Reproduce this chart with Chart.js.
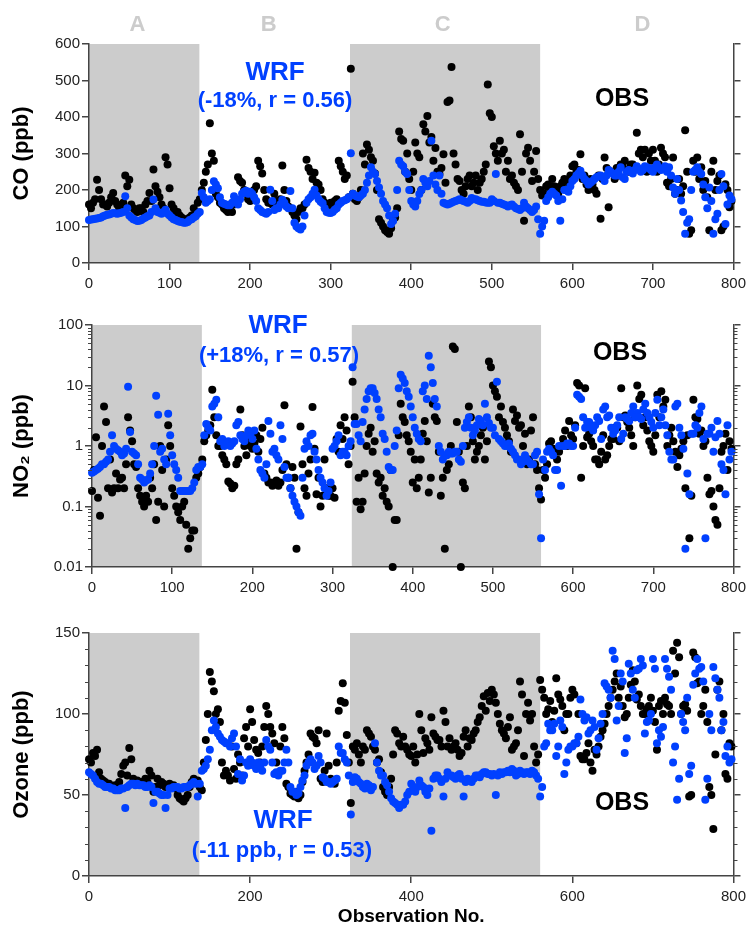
<!DOCTYPE html>
<html>
<head>
<meta charset="utf-8">
<script src="https://cdn.jsdelivr.net/npm/chart.js@4.4.1/dist/chart.umd.min.js"></script>
<style>
  body { margin: 0; background: #fff; }
  canvas { position: absolute; left: 0; }
</style>
</head>
<body>
<canvas id="co" width="751" height="300" style="top:0px"></canvas>
<canvas id="no2" width="751" height="300" style="top:300px"></canvas>
<canvas id="o3" width="751" height="335" style="top:600px"></canvas>
<script>
'use strict';
const obsNo = Array.from({ length: 160 }, (_, i) => i * 5);
const obsNoMid = obsNo.map(v => v + 2.5);

// CO (ppb)
const coObs = [
  160, 165, 228, 175, 160, 165, 192, 160, 158, 240,
  228, 150, 140, 150, 160, 192, 256, 195, 160, 290,
  205, 150, 140, 125, 120, 125, 150, 165, 200, 250,
  383, 280, 180, 160, 145, 150, 160, 235, 220, 190,
  170, 200, 280, 245, 175, 165, 190, 160, 267, 170,
  150, 130, 140, 150, 283, 250, 247, 215, 175, 160,
  165, 170, 280, 250, 240, 532, 175, 180, 300, 325,
  290, 245, 120, 100, 85, 95, 125, 360, 335, 300,
  200, 330, 290, 380, 403, 345, 315, 244, 298, 441,
  537, 270, 225, 190, 230, 210, 240, 220, 250, 489,
  400, 300, 335, 310, 280, 240, 210, 353, 116, 316,
  225, 307, 200, 190, 215, 230, 200, 210, 230, 220,
  265, 250, 298, 240, 200, 216, 190, 121, 289, 153,
  250, 260, 270, 280, 250, 270, 357, 310, 310, 300,
  310, 250, 316, 290, 210, 289, 200, 190, 364, 80,
  280, 289, 262, 225, 90, 280, 225, 90, 216, 153,
];
const coObsMid = [
  150, 175, 200, 160, 155, 180, 170, 150, 165, 210,
  160, 145, 150, 140, 170, 170, 210, 180, 150, 270,
  160, 140, 130, 120, 115, 130, 140, 175, 220, 270,
  300, 190, 165, 150, 140, 140, 170, 225, 200, 175,
  180, 210, 265, 200, 165, 160, 170, 175, 200, 155,
  140, 120, 150, 160, 260, 230, 220, 200, 165, 155,
  160, 175, 265, 230, 180, 190, 170, 200, 270, 310,
  280, 200, 110, 90, 80, 120, 150, 340, 250, 230,
  250, 300, 200, 360, 330, 280, 250, 260, 220, 445,
  300, 230, 200, 210, 240, 220, 200, 230, 270, 410,
  320, 280, 300, 250, 230, 220, 200, 250, 300, 280,
  250, 230, 185, 210, 200, 210, 190, 220, 200, 240,
  270, 255, 230, 215, 230, 200, 240, 230, 260, 250,
  230, 240, 265, 255, 270, 260, 300, 290, 250, 280,
  280, 270, 300, 220, 230, 190, 230, 210, 250, 90,
  250, 230, 200, 180, 250, 200, 240, 100, 200, 170,
];
const coWrf = [
  118, 120, 122, 125, 130, 133, 137, 135, 138, 183,
  130, 120, 115, 118, 125, 130, 174, 140, 135, 146,
  130, 120, 115, 112, 110, 118, 125, 135, 192, 165,
  175, 224, 205, 165, 160, 158, 183, 160, 190, 198,
  195, 180, 150, 140, 135, 201, 145, 150, 173, 155,
  197, 110, 95, 100, 165, 180, 201, 175, 164, 140,
  137, 146, 160, 170, 175, 301, 185, 180, 190, 220,
  262, 244, 207, 170, 150, 107, 135, 280, 265, 244,
  170, 155, 189, 230, 210, 335, 215, 240, 165, 160,
  165, 170, 175, 170, 165, 178, 175, 170, 168, 165,
  175, 244, 165, 160, 155, 160, 150, 145, 165, 150,
  140, 155, 80, 116, 180, 195, 185, 116, 200, 195,
  225, 240, 253, 230, 215, 225, 235, 240, 225, 255,
  245, 240, 262, 230, 255, 245, 265, 250, 265, 260,
  250, 270, 255, 265, 262, 207, 230, 171, 80, 120,
  250, 262, 244, 180, 207, 80, 135, 244, 107, 185,
];
const coWrfMid = [
  119, 121, 123, 128, 132, 135, 136, 136, 140, 150,
  125, 118, 116, 122, 128, 140, 150, 138, 140, 135,
  125, 118, 113, 110, 112, 120, 128, 140, 180, 170,
  200, 215, 180, 162, 158, 165, 170, 175, 195, 190,
  190, 170, 145, 138, 140, 170, 150, 160, 165, 150,
  150, 100, 92, 130, 175, 190, 185, 168, 150, 138,
  140, 150, 165, 172, 180, 190, 182, 185, 200, 240,
  250, 225, 190, 160, 130, 115, 200, 270, 250, 200,
  160, 170, 200, 220, 225, 240, 200, 190, 162, 162,
  168, 172, 172, 168, 170, 175, 172, 168, 166, 165,
  170, 165, 162, 158, 158, 155, 148, 150, 155, 145,
  145, 120, 100, 170, 190, 190, 170, 175, 200, 210,
  230, 245, 240, 225, 220, 230, 238, 235, 240, 250,
  240, 250, 235, 250, 250, 255, 258, 255, 262, 255,
  262, 260, 258, 250, 240, 190, 200, 140, 110, 200,
  255, 250, 215, 150, 170, 120, 200, 210, 160, 175,
];

// NO2 (ppb)
const no2Obs = [
  0.18, 1.4, 0.07, 4.5, 0.2, 0.17, 0.35, 0.28, 0.2, 3.0,
  1.2, 0.45, 0.15, 0.1, 0.12, 0.2, 0.06, 1.0, 0.1, 2.2,
  0.2, 0.1, 0.06, 0.12, 0.02, 0.04, 0.3, 0.45, 1.2, 1.8,
  8.5, 1.5, 1.0, 0.6, 0.26, 0.2, 0.5, 4.0, 1.0, 1.3,
  0.9, 1.5, 1.3, 0.35, 0.25, 0.22, 0.27, 0.25, 4.7, 0.3,
  0.45, 0.02, 2.1, 0.2, 0.35, 4.4, 0.16, 0.1, 0.6, 0.15,
  0.2, 1.3, 2.2, 3.0, 0.5, 11.5, 0.12, 0.09, 0.35, 1.6,
  0.8, 0.35, 0.3, 0.2, 0.1, 0.01, 0.06, 5.0, 2.5, 1.2,
  0.25, 0.2, 0.6, 2.6, 0.17, 5.0, 2.6, 0.15, 0.02, 0.5,
  44, 2.5, 0.01, 0.2, 4.5, 1.2, 0.8, 1.5, 0.6, 25,
  10, 6.5, 4.5, 2.0, 1.2, 4.0, 3.2, 2.2, 1.6, 0.6,
  3.0, 0.4, 0.13, 0.3, 1.1, 0.9, 0.6, 1.0, 1.8, 2.6,
  1.3, 11, 0.3, 9, 1.6, 1.0, 0.6, 0.8, 0.6, 1.0,
  1.3, 2.0, 9, 3.2, 2.0, 1.0, 10, 7, 3.0, 1.2,
  0.8, 7, 8, 5.8, 1.5, 1.2, 0.45, 0.9, 0.2, 0.03,
  5.8, 2.8, 1.8, 1.2, 0.16, 0.1, 0.05, 0.8, 1.6, 1.2,
];
const no2ObsMid = [
  0.4, 0.14, 1.0, 2.5, 0.6, 0.2, 0.2, 0.3, 0.5, 1.8,
  0.5, 0.2, 0.12, 0.15, 0.3, 0.5, 0.12, 0.4, 0.6, 1.0,
  0.15, 0.08, 0.1, 0.05, 0.03, 0.04, 0.35, 0.6, 1.5, 2.2,
  3.0, 1.0, 0.7, 0.5, 0.24, 0.22, 0.6, 1.5, 0.7, 1.0,
  1.1, 0.8, 2.0, 0.3, 0.25, 0.25, 0.22, 0.4, 0.5, 0.2,
  0.3, 0.08, 0.5, 0.15, 0.6, 0.9, 0.3, 0.15, 0.2, 0.15,
  0.14, 0.8, 1.3, 1.8, 1.0, 3.0, 0.3, 0.12, 1.0, 2.0,
  1.2, 0.25, 0.15, 0.12, 0.4, 0.06, 1.5, 3.0, 1.5, 0.8,
  0.6, 0.3, 1.6, 1.2, 0.3, 3.0, 0.8, 0.3, 0.4, 1.0,
  40, 0.8, 0.25, 1.0, 3.0, 0.6, 1.0, 2.0, 1.2, 20,
  8, 3.0, 2.5, 1.5, 0.8, 2.6, 2.0, 1.0, 0.5, 1.8,
  0.5, 0.2, 0.4, 0.5, 1.2, 0.8, 0.8, 1.3, 1.0, 1.5,
  2.2, 10, 1.0, 1.4, 1.2, 0.6, 0.5, 1.5, 0.7, 1.3,
  2.0, 1.2, 3.0, 2.5, 1.5, 3.0, 6, 2.2, 1.8, 1.0,
  1.5, 3.0, 4.5, 1.0, 2.0, 0.8, 0.7, 1.2, 1.5, 0.15,
  3.0, 1.6, 1.0, 0.3, 0.18, 0.06, 0.2, 1.0, 0.4, 0.9,
];
const no2Wrf = [
  0.36, 0.4, 0.45, 0.5, 0.6, 1.5, 0.9, 0.8, 0.75, 9.5,
  0.8, 0.7, 0.3, 0.25, 0.28, 0.5, 6.8, 0.8, 0.6, 3.4,
  0.7, 0.4, 0.18, 0.18, 0.18, 0.2, 0.4, 0.45, 1.5, 2.0,
  4.5, 5.8, 1.2, 1.0, 1.2, 1.1, 2.2, 1.5, 1.2, 1.8,
  1.3, 0.9, 0.4, 0.3, 2.6, 0.8, 0.7, 2.2, 0.45, 0.3,
  0.15, 0.1, 0.07, 0.9, 1.0, 1.6, 0.6, 0.3, 0.2, 0.18,
  0.9, 1.2, 0.7, 0.8, 1.0, 20, 2.3, 1.2, 4.0, 8.0,
  9, 6, 3.0, 1.3, 0.45, 0.4, 1.8, 15, 11, 6.5,
  3.0, 1.6, 1.2, 10, 31, 11, 4.5, 0.8, 0.7, 0.8,
  0.75, 0.8, 0.55, 2.0, 3.0, 1.5, 2.2, 2.6, 5.0, 2.4,
  2.0, 11.5, 1.2, 1.0, 1.1, 0.8, 0.6, 0.5, 0.7, 0.55,
  0.5, 0.8, 0.03, 0.4, 0.9, 0.7, 0.4, 0.22, 1.0, 1.1,
  1.0, 7, 6, 2.0, 2.5, 1.8, 3.0, 1.3, 4.5, 3.2,
  1.6, 2.2, 1.3, 3.0, 2.6, 4.5, 3.5, 2.8, 5.0, 3.0,
  2.0, 5.8, 3.0, 2.2, 0.8, 0.6, 5.0, 1.5, 0.02, 0.16,
  1.6, 2.0, 4.5, 0.03, 1.6, 0.8, 2.6, 0.5, 0.16, 0.6,
];
const no2WrfMid = [
  0.38, 0.42, 0.5, 0.55, 0.8, 1.0, 0.85, 0.7, 0.9, 1.7,
  0.75, 0.5, 0.28, 0.27, 0.35, 1.0, 3.3, 0.9, 0.5, 1.5,
  0.5, 0.3, 0.18, 0.18, 0.18, 0.25, 0.45, 0.5, 2.3, 1.8,
  5.0, 3.0, 1.3, 1.1, 1.0, 1.2, 2.5, 1.3, 1.5, 1.6,
  1.8, 0.6, 0.35, 0.5, 1.6, 0.9, 0.6, 1.3, 0.3, 0.2,
  0.12, 0.08, 0.3, 1.2, 1.5, 0.8, 0.4, 0.25, 0.15, 0.25,
  1.0, 1.5, 0.8, 0.7, 1.2, 2.3, 1.5, 2.5, 6.0, 9.0,
  7.5, 4.0, 1.6, 0.8, 0.4, 1.0, 9, 13, 8, 4.5,
  2.0, 1.3, 8, 6, 20, 6, 1.0, 0.6, 0.7, 0.75,
  0.8, 0.6, 1.0, 2.5, 2.0, 1.8, 2.8, 2.2, 3.0, 2.0,
  1.5, 1.3, 1.1, 1.0, 0.9, 0.7, 0.6, 0.55, 0.6, 0.5,
  0.7, 0.16, 0.6, 0.8, 0.8, 0.4, 1.0, 1.0, 1.1, 1.0,
  2.0, 6.5, 3.0, 2.5, 2.0, 2.2, 2.6, 4.0, 3.0, 2.0,
  1.8, 3.0, 1.6, 2.8, 3.5, 3.0, 3.0, 4.0, 3.5, 2.5,
  3.5, 2.2, 4.0, 1.5, 0.6, 4.5, 2.0, 0.9, 0.35, 1.6,
  2.2, 3.5, 1.3, 1.6, 2.0, 1.4, 1.6, 0.4, 2.2, 0.8,
];

// Ozone (ppb)
const o3Obs = [
  72, 76, 78, 60, 58, 57, 55, 56, 63, 70,
  79, 60, 59, 58, 60, 65, 52, 60, 58, 55,
  57, 56, 50, 47, 48, 55, 60, 59, 53, 84,
  126, 114, 103, 70, 65, 59, 66, 75, 62, 92,
  103, 84, 76, 80, 105, 92, 82, 63, 92, 57,
  51, 49, 48, 58, 70, 88, 85, 90, 58, 88,
  60, 57, 102, 119, 87, 45, 78, 75, 80, 90,
  86, 78, 72, 55, 50, 60, 90, 82, 86, 78,
  74, 70, 100, 76, 82, 98, 86, 84, 102, 80,
  78, 82, 74, 86, 80, 84, 90, 98, 111, 113,
  115, 107, 94, 88, 92, 78, 82, 120, 74, 107,
  100, 70, 121, 110, 103, 95, 122, 109, 90, 100,
  115, 82, 74, 72, 82, 65, 75, 86, 94, 105,
  115, 125, 117, 98, 110, 127, 109, 105, 100, 105,
  102, 78, 108, 110, 105, 139, 144, 100, 106, 49,
  138, 119, 100, 115, 55, 29, 115, 90, 63, 82,
];
const o3ObsMid = [
  70, 74, 64, 59, 57, 55, 56, 58, 68, 62,
  72, 58, 57, 56, 58, 62, 55, 56, 57, 56,
  55, 54, 48, 46, 50, 58, 58, 55, 70, 100,
  120, 100, 95, 62, 62, 80, 60, 70, 85, 80,
  95, 78, 70, 92, 100, 88, 70, 80, 85, 55,
  50, 52, 50, 65, 75, 86, 82, 60, 65, 68,
  58, 70, 108, 107, 70, 80, 82, 70, 78, 88,
  80, 70, 64, 52, 55, 75, 88, 80, 80, 75,
  80, 75, 90, 85, 78, 88, 84, 80, 95, 85,
  80, 78, 76, 90, 85, 88, 95, 105, 102, 108,
  112, 100, 90, 85, 98, 80, 90, 112, 100, 96,
  80, 75, 115, 100, 108, 102, 112, 105, 100, 110,
  112, 100, 72, 76, 70, 78, 80, 90, 100, 110,
  120, 110, 105, 100, 118, 120, 112, 100, 103, 110,
  95, 105, 100, 106, 100, 125, 135, 105, 102, 50,
  135, 120, 105, 95, 50, 75, 120, 100, 60, 80,
];
const o3Wrf = [
  64, 62, 58, 57, 55, 55, 54, 53, 54, 42,
  56, 57, 57, 56, 55, 56, 45, 52, 50, 42,
  54, 55, 55, 54, 55, 56, 58, 49, 65, 68,
  78, 96, 88, 84, 82, 80, 88, 63, 59, 70,
  72, 68, 70, 65, 84, 78, 63, 62, 65, 78,
  55, 52, 51, 59, 68, 72, 66, 74, 61, 58,
  57, 59, 80, 76, 70, 38, 61, 58, 55, 57,
  53, 82, 65, 62, 56, 48, 45, 42, 44, 50,
  57, 52, 59, 55, 50, 28, 62, 60, 49, 64,
  62, 60, 63, 49, 60, 58, 62, 61, 64, 63,
  62, 50, 64, 64, 65, 66, 62, 65, 63, 64,
  65, 62, 49, 80, 94, 90, 74, 96, 63, 78,
  80, 82, 109, 96, 88, 96, 78, 94, 119, 115,
  139, 96, 125, 76, 131, 115, 127, 134, 88, 96,
  134, 82, 86, 134, 123, 70, 47, 100, 90, 63,
  118, 134, 129, 47, 100, 129, 115, 90, 74, 70,
];
const o3WrfMid = [
  63, 60, 57, 56, 55, 54, 53, 53, 54, 55,
  57, 56, 56, 56, 55, 55, 52, 51, 50, 50,
  54, 55, 54, 55, 55, 57, 57, 57, 66, 72,
  90, 92, 86, 83, 82, 85, 80, 72, 62, 68,
  70, 66, 68, 70, 80, 70, 64, 65, 70, 70,
  52, 50, 55, 62, 70, 70, 68, 70, 60, 58,
  58, 60, 76, 72, 62, 58, 60, 57, 54, 56,
  55, 70, 62, 58, 52, 46, 44, 44, 46, 52,
  55, 55, 56, 52, 54, 60, 62, 58, 60, 62,
  61, 62, 60, 58, 59, 60, 62, 63, 64, 63,
  63, 62, 63, 64, 64, 65, 63, 64, 64, 63,
  64, 60, 55, 82, 90, 94, 80, 92, 70, 80,
  82, 86, 100, 98, 90, 92, 85, 100, 117, 110,
  134, 105, 120, 85, 125, 110, 128, 130, 95, 100,
  128, 90, 92, 128, 115, 80, 60, 95, 110, 68,
  125, 128, 120, 60, 90, 122, 110, 95, 80, 72,
];

// ticks
const xTicks100 = [0, 100, 200, 300, 400, 500, 600, 700, 800];
const xTicks200 = [0, 200, 400, 600, 800];
const coTicks = [0, 100, 200, 300, 400, 500, 600];
const no2Ticks = [0.01, 0.1, 1, 10, 100];
const no2Minor = [0.01, 0.1, 1, 10].flatMap(d => [2, 3, 4, 5, 6, 7, 8, 9].map(m => d * m));
const o3Ticks = [0, 50, 100, 150];
const o3Minor = [10, 20, 30, 40, 60, 70, 80, 90, 110, 120, 130, 140];

// shaded periods and their letters
const shadedRanges = [[0, 137], [324, 560]];
const regionLabels = ['A', 'B', 'C', 'D'];
const regionCenters = [60, 223, 439, 687];

const BLUE = '#0040ff';
const AXIS = '#444';
Chart.defaults.font.family = '"Liberation Sans", Arial, sans-serif';

const toPoints = (vals, mids) =>
  vals.map((v, i) => ({ x: obsNo[i], y: v })).concat(mids.map((v, i) => ({ x: obsNoMid[i], y: v })));

const shadePlugin = {
  id: 'shade',
  beforeDraw(chart) {
    const { ctx, chartArea, scales } = chart;
    ctx.save();
    ctx.fillStyle = '#cccccc';
    shadedRanges.forEach(([a, b]) => {
      const x1 = scales.x.getPixelForValue(a);
      const x2 = scales.x.getPixelForValue(b);
      ctx.fillRect(x1, chartArea.top, x2 - x1, chartArea.bottom - chartArea.top);
    });
    ctx.restore();
  },
};

const minorTickPlugin = {
  id: 'minorTicks',
  afterDraw(chart, args, opts) {
    if (!opts.values) return;
    const { ctx, chartArea, scales } = chart;
    ctx.save();
    ctx.strokeStyle = AXIS;
    ctx.lineWidth = 1.2;
    ctx.beginPath();
    opts.values.forEach(v => {
      const y = Math.round(scales.y.getPixelForValue(v)) + 0.5;
      ctx.moveTo(chartArea.left - 4, y);
      ctx.lineTo(chartArea.left, y);
      ctx.moveTo(chartArea.right, y);
      ctx.lineTo(chartArea.right + 4, y);
    });
    ctx.stroke();
    ctx.restore();
  },
};

const textPlugin = {
  id: 'texts',
  afterDraw(chart, args, opts) {
    const { ctx, scales } = chart;
    ctx.save();
    ctx.textAlign = 'center';
    ctx.textBaseline = 'middle';
    (opts.items || []).forEach(t => {
      ctx.font = `bold ${t.size}px "Liberation Sans", Arial, sans-serif`;
      ctx.fillStyle = t.color;
      const x = t.obs !== undefined ? scales.x.getPixelForValue(t.obs) : t.x;
      ctx.fillText(t.text, x, t.y);
    });
    ctx.restore();
  },
};

function makePanel(canvasId, p) {
  const tickFont = { size: 15 };
  const grid = { drawOnChartArea: false, tickLength: 7, color: AXIS, lineWidth: 1.5 };
  const border = { color: AXIS, width: 1.5 };
  const setTicks = list => scale => { scale.ticks = list.map(v => ({ value: v })); };

  return new Chart(document.getElementById(canvasId), {
    type: 'scatter',
    data: {
      datasets: [
        { label: 'WRF', data: toPoints(p.wrf, p.wrfMid), backgroundColor: BLUE, pointRadius: 4, borderWidth: 0, clip: false },
        { label: 'OBS', data: toPoints(p.obs, p.obsMid), backgroundColor: '#000', pointRadius: 4, borderWidth: 0, clip: false },
      ],
    },
    options: {
      responsive: false,
      animation: false,
      layout: { padding: { top: p.top, left: 0, right: 0, bottom: 0 } },
      plugins: {
        legend: { display: false },
        tooltip: { enabled: false },
        minorTicks: { values: p.minor },
        texts: { items: p.texts },
      },
      scales: {
        x: {
          type: 'linear',
          min: 0,
          max: 800,
          afterBuildTicks: setTicks(p.xTicks),
          ticks: { font: tickFont, color: '#222', padding: 5, maxRotation: 0, autoSkip: false },
          grid: grid,
          border: border,
          title: {
            display: !!p.xTitle,
            text: p.xTitle || '',
            color: '#000',
            font: { size: 19, weight: 'bold' },
            padding: { top: 0, bottom: 7 },
          },
          afterFit: s => { s.height = p.bottom; },
        },
        y: {
          type: p.yType,
          position: 'left',
          min: p.yTicks[0],
          max: p.yTicks[p.yTicks.length - 1],
          afterBuildTicks: setTicks(p.yTicks),
          ticks: { font: tickFont, color: '#222', padding: 2, callback: v => String(v) },
          grid: grid,
          border: border,
          title: {
            display: true,
            text: p.yTitle,
            color: '#000',
            font: { size: 22, weight: 'bold' },
            padding: { top: 9, bottom: 0 },
          },
          afterFit: s => { s.width = p.left; },
        },
        y2: {
          type: p.yType,
          position: 'right',
          min: p.yTicks[0],
          max: p.yTicks[p.yTicks.length - 1],
          afterBuildTicks: setTicks(p.yTicks),
          ticks: { display: false },
          grid: grid,
          border: border,
          afterFit: s => { s.width = 13; },
        },
      },
    },
    plugins: [shadePlugin, minorTickPlugin, textPlugin],
  });
}

makePanel('co', {
  obs: coObs, obsMid: coObsMid, wrf: coWrf, wrfMid: coWrfMid,
  yType: 'linear', yTicks: coTicks, xTicks: xTicks100,
  yTitle: 'CO (ppb)', top: 44, left: 89, bottom: 37,
  texts: [
    ...regionLabels.map((t, i) => ({ text: t, obs: regionCenters[i], y: 25, size: 22, color: '#cccccc' })),
    { text: 'WRF', x: 275, y: 73, size: 26, color: BLUE },
    { text: '(-18%, r = 0.56)', x: 275, y: 101, size: 22, color: BLUE },
    { text: 'OBS', x: 622, y: 99, size: 25, color: '#000' },
  ],
});

makePanel('no2', {
  obs: no2Obs, obsMid: no2ObsMid, wrf: no2Wrf, wrfMid: no2WrfMid,
  yType: 'logarithmic', yTicks: no2Ticks, xTicks: xTicks100,
  minor: no2Minor, yTitle: 'NO\u2082 (ppb)', top: 25, left: 92, bottom: 33,
  texts: [
    { text: 'WRF', x: 278, y: 26, size: 26, color: BLUE },
    { text: '(+18%, r = 0.57)', x: 279, y: 56, size: 22, color: BLUE },
    { text: 'OBS', x: 620, y: 53, size: 25, color: '#000' },
  ],
});

makePanel('o3', {
  obs: o3Obs, obsMid: o3ObsMid, wrf: o3Wrf, wrfMid: o3WrfMid,
  yType: 'linear', yTicks: o3Ticks, xTicks: xTicks200,
  minor: o3Minor, yTitle: 'Ozone (ppb)', xTitle: 'Observation No.', top: 33, left: 89, bottom: 59,
  texts: [
    { text: 'WRF', x: 283, y: 221, size: 26, color: BLUE },
    { text: '(-11 ppb, r = 0.53)', x: 282, y: 251, size: 22, color: BLUE },
    { text: 'OBS', x: 622, y: 203, size: 25, color: '#000' },
  ],
});
</script>
</body>
</html>
